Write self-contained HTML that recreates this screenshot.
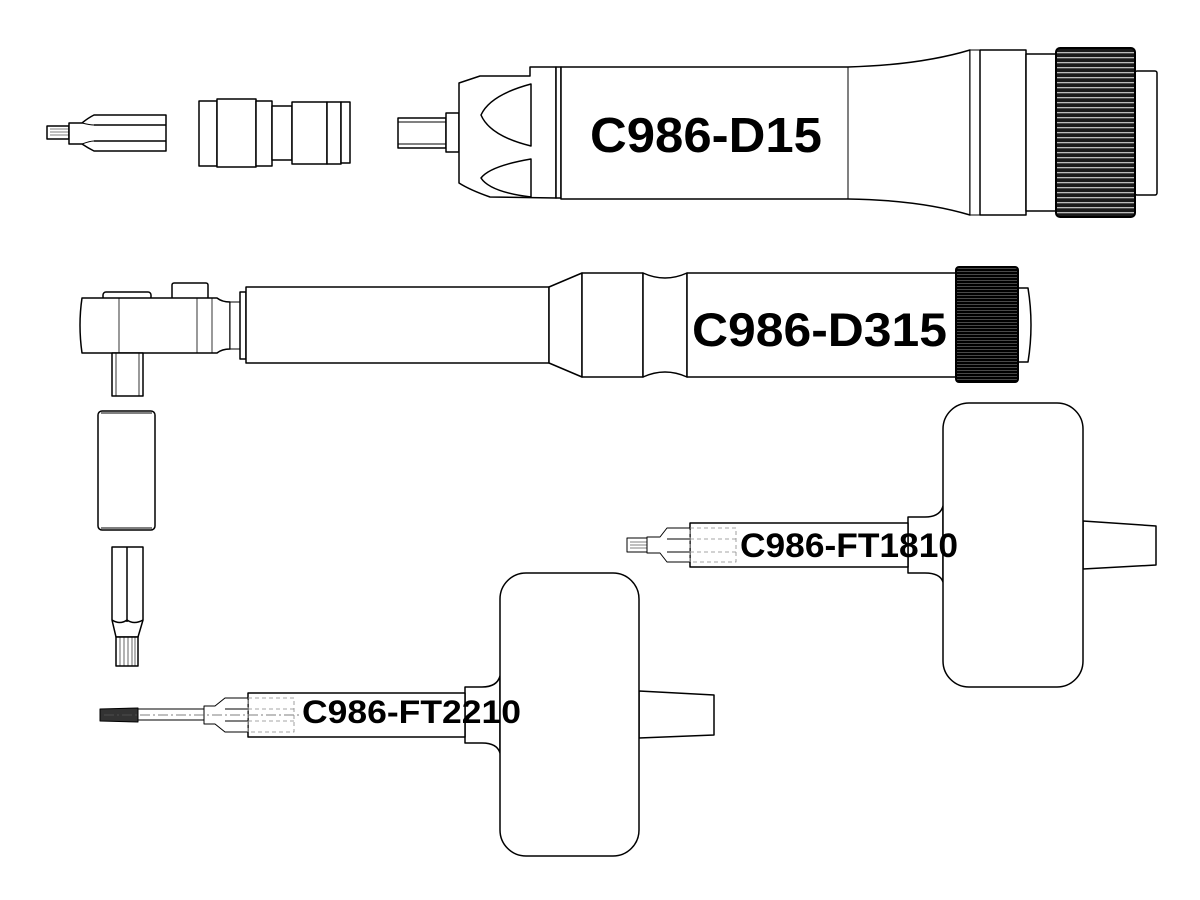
<!DOCTYPE html>
<html><head><meta charset="utf-8"><style>
html,body{margin:0;padding:0;background:#fff;}
svg{display:block;}
text{font-family:"Liberation Sans",Arial,sans-serif;font-weight:bold;fill:#000;}
</style></head><body>
<svg width="1200" height="900" viewBox="0 0 1200 900" xmlns="http://www.w3.org/2000/svg">
<defs>
<pattern id="knA" width="6" height="5" patternUnits="userSpaceOnUse">
<rect width="6" height="5" fill="#1a1a1a"/><rect y="2" width="6" height="1.3" fill="#bbb"/>
</pattern>
<pattern id="knB" width="6" height="3" patternUnits="userSpaceOnUse">
<rect width="6" height="3" fill="#000"/><rect y="1" width="6" height="0.7" fill="#666"/>
</pattern>
</defs>
<g fill="#fff" stroke="#000" stroke-width="1.5" stroke-linejoin="round">

<!-- ===== Row 1: bit ===== -->
<rect x="47" y="126" width="22" height="13"/>
<line x1="50" y1="129" x2="69" y2="129" stroke-width="0.6"/><line x1="50" y1="132" x2="69" y2="132" stroke-width="0.6"/><line x1="50" y1="135" x2="69" y2="135" stroke-width="0.6"/>
<path d="M69 123 L82 123 Q88 118 94 115 L166 115 L166 151 L94 151 Q88 148 82 144 L69 144 Z"/>
<line x1="94" y1="125" x2="166" y2="125"/><line x1="94" y1="141" x2="166" y2="141"/>
<path d="M82 123 Q90 125 94 125 M82 144 Q90 141 94 141" fill="none" stroke-width="1"/>

<!-- socket adapter -->
<rect x="199" y="101" width="18" height="65"/>
<rect x="217" y="99" width="39" height="68"/>
<rect x="256" y="101" width="16" height="65"/>
<rect x="272" y="106" width="20" height="54"/>
<rect x="292" y="102" width="35" height="62"/>
<rect x="327" y="102" width="14" height="62"/>
<rect x="341" y="102" width="9" height="61"/>

<!-- D15 driver -->
<rect x="398" y="118" width="48" height="30"/>
<line x1="398" y1="122" x2="446" y2="122" stroke-width="1"/><line x1="398" y1="144" x2="446" y2="144" stroke-width="1"/>
<rect x="446" y="113" width="13" height="39"/>
<path d="M459 83 L480 76 L530 76 L530 67 L556 67 L556 198 L490 197 Q470 190 459 183 Z"/>
<path d="M531 84 Q490 95 481 115 Q490 136 531 146 Z"/>
<path d="M531 159 Q490 166 481 178 Q490 192 531 197 Z"/>
<rect x="556" y="67" width="5" height="131"/>
<path d="M561 67 L848 67 Q920 65 970 50 L970 215 Q920 200 848 199 L561 199 Z"/>
<line x1="848" y1="67" x2="848" y2="199" stroke-width="1"/>
<rect x="970" y="50" width="10" height="165" stroke-width="1"/>
<rect x="980" y="50" width="46" height="165"/>
<rect x="1026" y="54" width="30" height="157"/>
<rect x="1135" y="71" width="22" height="124" rx="2"/>
<rect x="1056" y="48" width="79" height="169" rx="4" fill="url(#knA)" stroke-width="2"/>

<!-- ===== Row 2: D315 ===== -->
<rect x="103" y="292" width="48" height="8" rx="3"/>
<rect x="172" y="283" width="36" height="16" rx="2"/>
<path d="M82 298 L217 298 Q222 302 230 302 L230 349 Q222 349 217 353 L82 353 Q78 325 82 298 Z"/>
<line x1="119" y1="298" x2="119" y2="353" stroke-width="0.8"/>
<line x1="197" y1="298" x2="197" y2="353" stroke-width="0.8"/>
<line x1="212" y1="298" x2="212" y2="353" stroke-width="0.8"/>
<rect x="230" y="302" width="10" height="47" stroke-width="1"/>
<rect x="240" y="292" width="6" height="67"/>
<rect x="246" y="287" width="303" height="76"/>
<path d="M549 287 L582 273 L582 377 L549 363 Z"/>
<rect x="582" y="273" width="61" height="104"/>
<path d="M643 273 Q665 283 687 273 L687 377 Q665 367 643 377 Z"/>
<rect x="687" y="273" width="269" height="104"/>
<path d="M1018 288 L1028 288 Q1034 325 1028 362 L1018 362 Z"/>
<rect x="956" y="267" width="62" height="115" rx="3" fill="url(#knB)" stroke-width="2"/>

<!-- square drive, socket, bit -->
<rect x="112" y="353" width="31" height="43"/>
<line x1="116" y1="353" x2="116" y2="396" stroke-width="0.8"/><line x1="139" y1="353" x2="139" y2="396" stroke-width="0.8"/>
<rect x="98" y="411" width="57" height="119" rx="4"/>
<line x1="101" y1="413" x2="152" y2="413" stroke-width="1"/><line x1="101" y1="528" x2="152" y2="528" stroke-width="1"/>
<path d="M112 547 L143 547 L143 620 L138 637 L116 637 L112 620 Z"/>
<line x1="127" y1="547" x2="127" y2="622"/>
<path d="M112 620 Q120 625 127 620 Q134 625 143 620" fill="none"/>
<rect x="116" y="637" width="22" height="29"/>
<line x1="120" y1="637" x2="120" y2="666" stroke-width="0.6"/><line x1="124" y1="637" x2="124" y2="666" stroke-width="0.6"/><line x1="128" y1="637" x2="128" y2="666" stroke-width="0.6"/><line x1="132" y1="637" x2="132" y2="666" stroke-width="0.6"/><line x1="135" y1="637" x2="135" y2="666" stroke-width="0.6"/>

<!-- ===== FT1810 ===== -->
<path d="M1083 521 L1156 526 L1156 565 L1083 569 Z"/>
<path d="M908 517 L925 517 Q940 517 943 506 L943 582 Q940 573 925 573 L908 573 Z"/>
<rect x="943" y="403" width="140" height="284" rx="26"/>
<rect x="690" y="523" width="218" height="44"/>
<line x1="908" y1="523" x2="908" y2="567" stroke-width="1"/>
<rect x="627" y="538" width="20" height="14" stroke-width="1"/>
<line x1="630" y1="542" x2="647" y2="542" stroke-width="0.5"/><line x1="630" y1="545" x2="647" y2="545" stroke-width="0.5"/><line x1="630" y1="548" x2="647" y2="548" stroke-width="0.5"/>
<path d="M647 537 L660 537 L667 528 L690 528 L690 562 L667 562 L660 553 L647 553 Z" stroke-width="1"/>
<line x1="667" y1="539" x2="690" y2="539" stroke-width="1"/><line x1="667" y1="552" x2="690" y2="552" stroke-width="1"/>
<g stroke="#888" stroke-width="0.8" stroke-dasharray="4,3" fill="none">
<rect x="690" y="528" width="46" height="34"/>
<line x1="690" y1="539" x2="736" y2="539"/><line x1="690" y1="552" x2="736" y2="552"/>
</g>

<!-- ===== FT2210 ===== -->
<path d="M639 691 L714 695 L714 735 L639 738 Z"/>
<path d="M465 687 L482 687 Q497 687 500 676 L500 753 Q497 743 482 743 L465 743 Z"/>
<rect x="500" y="573" width="139" height="283" rx="26"/>
<rect x="248" y="693" width="217" height="44"/>
<line x1="465" y1="693" x2="465" y2="737" stroke-width="1"/>
<path d="M100 709 L138 708 L138 722 L100 721 Z" fill="#333" stroke-width="1"/>
<rect x="138" y="709" width="66" height="11" stroke-width="1"/>
<path d="M204 706 L215 706 L225 698 L248 698 L248 732 L225 732 L215 724 L204 724 Z" stroke-width="1"/>
<line x1="225" y1="709" x2="248" y2="709" stroke-width="1"/><line x1="225" y1="721" x2="248" y2="721" stroke-width="1"/>
<line x1="104" y1="715" x2="300" y2="715" stroke="#555" stroke-width="0.7" stroke-dasharray="10,3,2,3"/>
<g stroke="#888" stroke-width="0.8" stroke-dasharray="4,3" fill="none">
<rect x="248" y="698" width="46" height="34"/>
<line x1="248" y1="709" x2="294" y2="709"/><line x1="248" y1="721" x2="294" y2="721"/>
</g>
</g>

<!-- labels -->
<text x="590" y="152" font-size="49" textLength="232" lengthAdjust="spacingAndGlyphs">C986-D15</text>
<text x="692" y="346" font-size="47" textLength="255" lengthAdjust="spacingAndGlyphs">C986-D315</text>
<text x="740" y="557" font-size="34" textLength="218" lengthAdjust="spacingAndGlyphs">C986-FT1810</text>
<text x="302" y="723" font-size="32" textLength="219" lengthAdjust="spacingAndGlyphs">C986-FT2210</text>
</svg>
</body></html>
